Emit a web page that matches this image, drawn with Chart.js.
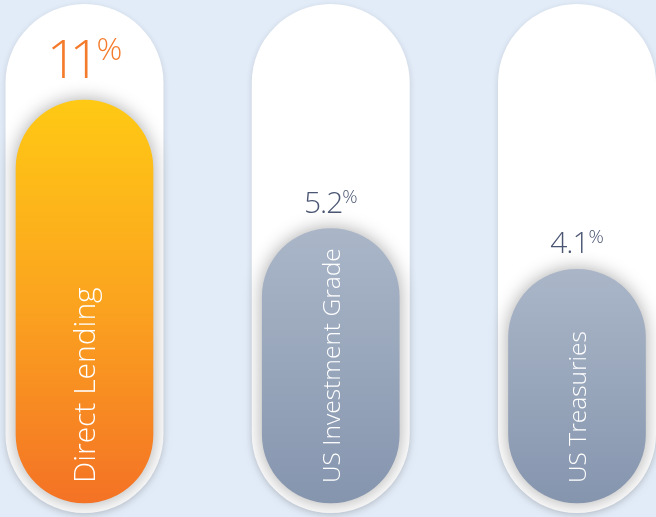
<!DOCTYPE html>
<html>
<head>
<meta charset="utf-8">
<script src="https://cdn.jsdelivr.net/npm/chart.js@4"></script>
<style>
  html, body { margin: 0; padding: 0; background: #E2ECF8; }
  #wrap { width: 656px; height: 517px; position: relative; }
</style>
</head>
<body>
<div id="wrap"><canvas id="c" width="656" height="517"></canvas></div>
<script>
const categories = ["Direct Lending", "US Investment Grade", "US Treasuries"];
const values = [11, 5.2, 4.1];
const valueLabels = ["11", "5.2", "4.1"];
const unit = "%";

const FONT = '"Open Sans", "Noto Sans", sans-serif';
const gradStops = [
  ["#FFC914", "#FBA41F", "#F47225"],
  ["#AAB6C8", "#98A6BB", "#8595AE"],
  ["#AAB6C8", "#98A6BB", "#8595AE"]
];
const valueColors = ["#F47B2B", "#4B5673", "#4B5673"];
// [digit size, % size, gap above bar, letterSpacing, gap digits->%]
const valueStyle = [[54, 32, 22, -8, 4], [30, 19, 16, -1, 0], [30, 19, 16, -1, 0]];
const catSizes = [30, 24.5, 24.5];

function barGradient(ctx) {
  const chart = ctx.chart;
  const area = chart.chartArea;
  const s = gradStops[ctx.dataIndex] || gradStops[0];
  if (!area || !chart.scales || !chart.scales.y) return s[1];
  let top = chart.scales.y.getPixelForValue(values[ctx.dataIndex]);
  if (!isFinite(top) || !isFinite(area.bottom)) return s[1];
  const g = chart.ctx.createLinearGradient(0, top, 0, area.bottom);
  g.addColorStop(0, s[0]);
  g.addColorStop(0.5, s[1]);
  g.addColorStop(1, s[2]);
  return g;
}

function roundRect(c, x, y, w, h, r) {
  c.beginPath();
  c.moveTo(x + r, y);
  c.arc(x + w - r, y + r, r, -Math.PI / 2, 0);
  c.arc(x + w - r, y + h - r, r, 0, Math.PI / 2);
  c.arc(x + r, y + h - r, r, Math.PI / 2, Math.PI);
  c.arc(x + r, y + r, r, Math.PI, Math.PI * 1.5);
  c.closePath();
}

const pillPlugin = {
  id: 'pills',
  beforeDatasetsDraw(chart) {
    const c = chart.ctx;
    const meta = chart.getDatasetMeta(0);
    meta.data.forEach((el) => {
      const w = el.width + 21;
      const x = el.x - w / 2;
      const top = 4, bottom = 513;
      c.save();
      c.shadowColor = 'rgba(0,0,0,0.14)';
      c.shadowBlur = 6;
      c.shadowOffsetY = 2;
      c.fillStyle = '#FFFFFF';
      roundRect(c, x, top, w, bottom - top, w / 2);
      c.fill();
      c.restore();
    });
  },
  beforeDatasetDraw(chart) {
    const c = chart.ctx;
    c.save();
    c.shadowColor = 'rgba(0,0,0,0.34)';
    c.shadowBlur = 18;
  },
  afterDatasetDraw(chart) {
    chart.ctx.restore();
  },
  afterDatasetsDraw(chart) {
    const c = chart.ctx;
    const meta = chart.getDatasetMeta(0);
    meta.data.forEach((el, i) => {
      const [ds, ps, gap, ls, pg] = valueStyle[i];
      c.save();
      c.fillStyle = valueColors[i];
      c.textBaseline = 'alphabetic';
      c.textAlign = 'left';
      c.font = '300 ' + ds + 'px ' + FONT;
      c.letterSpacing = ls + 'px';
      const wd = c.measureText(valueLabels[i]).width;
      c.letterSpacing = '0px';
      c.font = '300 ' + ps + 'px ' + FONT;
      const wp = c.measureText(unit).width;
      const total = wd + pg + wp;
      const x0 = el.x - total / 2;
      const base = el.y - gap;
      c.font = '300 ' + ds + 'px ' + FONT;
      c.letterSpacing = ls + 'px';
      c.fillText(valueLabels[i], x0, base);
      c.letterSpacing = '0px';
      c.font = '300 ' + ps + 'px ' + FONT;
      const pBase = base - ds * 0.72 + ps * 0.72 - 2;
      c.fillText(unit, x0 + wd + pg, pBase);
      c.restore();

      const fs = catSizes[i];
      c.save();
      c.translate(el.x, 483);
      c.rotate(-Math.PI / 2);
      c.fillStyle = '#FFFFFF';
      c.font = '300 ' + fs + 'px ' + FONT;
      c.textAlign = 'left';
      c.textBaseline = 'alphabetic';
      c.fillText(categories[i], 0, fs * 0.36);
      c.restore();
    });
  }
};

new Chart(document.getElementById('c'), {
  type: 'bar',
  data: {
    labels: categories,
    datasets: [{
      data: values,
      backgroundColor: barGradient,
      borderWidth: 0,
      borderRadius: 70,
      borderSkipped: false,
      barThickness: 137,
      clip: false
    }]
  },
  options: {
    responsive: false,
    animation: false,
    events: [],
    layout: { padding: { top: 100, bottom: 14, left: 84.5, right: 79 } },
    plugins: { legend: { display: false }, tooltip: { enabled: false } },
    scales: {
      x: { type: 'category', offset: false, display: false, grid: { display: false } },
      y: { type: 'logarithmic', min: 1.05, max: 11, display: false, grid: { display: false } }
    }
  },
  plugins: [pillPlugin]
});
</script>
</body>
</html>
